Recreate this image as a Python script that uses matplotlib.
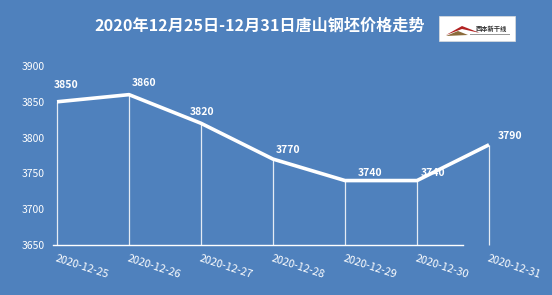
import matplotlib
matplotlib.use("Agg")
import matplotlib.pyplot as plt
from matplotlib.patches import Rectangle, Polygon

plt.rcParams['font.family'] = ['Noto Sans CJK SC', 'DejaVu Sans']

dates = ['2020-12-25', '2020-12-26', '2020-12-27', '2020-12-28',
         '2020-12-29', '2020-12-30', '2020-12-31']
prices = [3850, 3860, 3820, 3770, 3740, 3740, 3790]
yticks = [3650, 3700, 3750, 3800, 3850, 3900]
title = '2020年12月25日-12月31日唐山钢坯价格走势'

# label offsets in pixels (layout only)
label_offsets = [(9, 17), (15, 12), (1, 11), (15, 9), (25, 8), (16, 8), (21, 9)]

BG = '#4F81BD'
W, H = 552, 295
fig = plt.figure(figsize=(W / 100, H / 100), dpi=100, facecolor=BG)
ax = fig.add_axes([53 / W, 50 / H, (489 - 53) / W, 179 / H])
ax.set_facecolor(BG)
x = list(range(len(dates)))
ax.set_xlim(-4 / 72, 6)
ax.set_ylim(3650, 3900)

ax.vlines(x, 3650, prices, colors='white', linewidth=0.9, alpha=0.85, clip_on=False, zorder=2)
ax.plot(x, prices, color='white', linewidth=2.6, solid_capstyle='butt', clip_on=False, zorder=4)

for xi, p, (dx, dy) in zip(x, prices, label_offsets):
    ax.annotate(str(p), (xi, p), xytext=(dx * 0.72, dy * 0.72), textcoords='offset points',
                ha='center', va='center', color='white', fontsize=7.5, fontweight='semibold',
                annotation_clip=False, zorder=3)

for s in ['top', 'right', 'left']:
    ax.spines[s].set_visible(False)
ax.spines['bottom'].set_color('white')
ax.spines['bottom'].set_linewidth(1.0)
ax.spines['bottom'].set_bounds(-4 / 72, (463 - 57) / 72)

ax.set_yticks(yticks)
ax.set_yticklabels([str(v) for v in yticks])
ax.tick_params(axis='y', length=0, pad=6, labelcolor='white', labelsize=7.5)
ax.set_xticks(x)
ax.set_xticklabels(dates)
ax.tick_params(axis='x', length=0, pad=6, labelcolor='white', labelsize=7.8)
for lbl in ax.get_xticklabels():
    lbl.set_rotation(-18)
    lbl.set_ha('left')
    lbl.set_va('top')
    lbl.set_rotation_mode('anchor')

fig.text(260 / W, 1 - 26 / H, title, ha='center', va='center', color='white',
         fontsize=11.6, fontweight='bold')

# logo
fig.patches.append(Rectangle((439 / W, 1 - 41 / H), 76 / W, 25 / H, transform=fig.transFigure,
                             facecolor='white', edgecolor='#dddddd', linewidth=0.5))
fig.patches.append(Polygon([(446 / W, 1 - 35 / H), (462 / W, 1 - 26 / H), (480 / W, 1 - 33 / H),
                            (462 / W, 1 - 29 / H)], closed=True, transform=fig.transFigure,
                           facecolor='#b22222', edgecolor='none'))
fig.patches.append(Polygon([(446 / W, 1 - 36 / H), (458 / W, 1 - 31 / H), (468 / W, 1 - 35 / H)],
                           closed=True, transform=fig.transFigure,
                           facecolor='#8b6b3a', edgecolor='none'))
fig.text(491 / W, 1 - 28 / H, '西本新干线', ha='center', va='center', color='#333333',
         fontsize=4.5, fontweight='bold')
fig.patches.append(Rectangle((470 / W, 1 - 35 / H), 40 / W, 1 / H, transform=fig.transFigure,
                             facecolor='#999999', edgecolor='none'))

fig.savefig('out.png', dpi=100, facecolor=BG)
